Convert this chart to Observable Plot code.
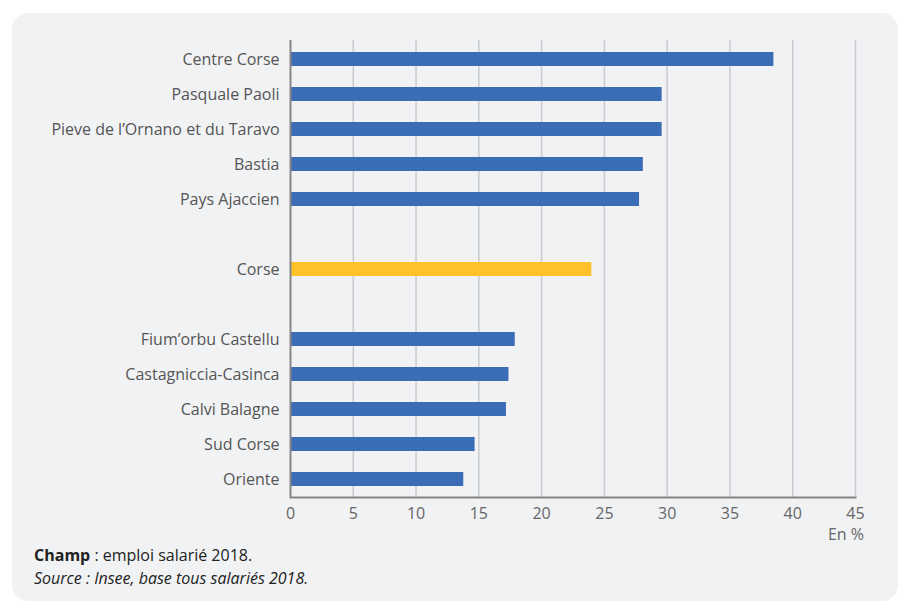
<!DOCTYPE html>
<html><head><meta charset="utf-8">
<script src="https://cdn.jsdelivr.net/npm/d3@7"></script>
<script src="https://cdn.jsdelivr.net/npm/@observablehq/plot@0.6"></script>
<style>
html,body{margin:0;padding:0;background:#fff;font-family:"Open Sans",sans-serif;}
#panel{position:absolute;left:12px;top:13px;width:886px;height:588px;background:#f1f2f4;border-radius:16px;}
#chart{position:absolute;left:0;top:0;}
#unit{position:absolute;top:523px;right:34px;font-size:16px;color:#666;}
#caption{position:absolute;left:34px;top:544px;font-size:16px;color:#222;line-height:23px;}
</style></head>
<body>
<div id="panel"></div>
<div id="chart"></div>
<div id="unit">En %</div>
<div id="caption"><b>Champ</b> : emploi salarié 2018.<br><i>Source : Insee, base tous salariés 2018.</i></div>
<script>
const names = ["Centre Corse","Pasquale Paoli","Pieve de l’Ornano et du Taravo","Bastia","Pays Ajaccien","Corse","Fium’orbu Castellu","Castagniccia-Casinca","Calvi Balagne","Sud Corse","Oriente"];
const values = [38.5,29.6,29.6,28.1,27.8,24.0,17.9,17.4,17.2,14.7,13.8];
const order = ["Centre Corse","Pasquale Paoli","Pieve de l’Ornano et du Taravo","Bastia","Pays Ajaccien","gap1","Corse","gap2","Fium’orbu Castellu","Castagniccia-Casinca","Calvi Balagne","Sud Corse","Oriente"];
const xTicks = [0,5,10,15,20,25,30,35,40,45];
const highlight = "Corse";

const data = names.map((n,i) => ({name:n, value:values[i]}));

const chart = Plot.plot({
  width: 898,
  height: 542,
  marginLeft: 290,
  marginRight: 43,
  marginTop: 40,
  marginBottom: 45,
  style: {fontFamily: "Open Sans", fontSize: "16px", color: "#5a5a5a", background: "transparent", overflow: "visible"},
  x: {domain: [0,45], label: null},
  y: {domain: order, paddingInner: 0.6, paddingOuter: 0.27, label: null},
  marks: [
    Plot.gridX(xTicks.filter(t => t > 0), {stroke: "#c9cbce", strokeOpacity: 1, strokeWidth: 1.5}),
    Plot.barX(data, {x: "value", y: "name", fill: d => d.name === highlight ? "#ffc22a" : "#3a6db5"}),
    Plot.ruleX([0], {stroke: "#858585", strokeWidth: 2}),
    Plot.frame({anchor: "bottom", stroke: "#858585", strokeWidth: 2}),
    Plot.axisY({tickSize: 0, tickPadding: 11, label: null, fontSize: 16, tickFormat: d => d.startsWith("gap") ? "" : d, fill: "#555"}),
    Plot.axisX({ticks: xTicks, tickSize: 0, tickPadding: 10, label: null, fontSize: 16, fill: "#666"})
  ]
});
document.getElementById("chart").appendChild(chart);
</script>
</body></html>
